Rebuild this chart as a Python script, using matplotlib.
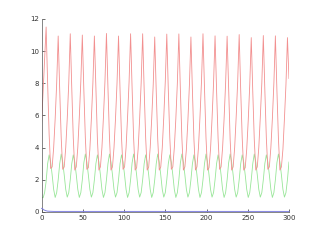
import numpy as np
import matplotlib
matplotlib.use("Agg")
import matplotlib.pyplot as plt

red = [
    5.5, 7.5, 9.5,
    11.5, 8.0, 4.8, 2.7, 2.8, 4.0, 5.8, 8.0,
    10.94, 7.6, 4.6, 2.65, 2.8, 4.0, 5.8, 8.0,
    11.08, 7.7, 4.6, 2.6, 2.8, 4.0, 5.9, 8.1,
    11.0, 7.6, 4.6, 2.65, 2.75, 3.9, 5.8, 8.0,
    10.94, 7.6, 4.5, 2.6, 2.8, 4.0, 5.9, 8.1,
    11.1, 7.7, 4.6, 2.6, 2.8, 4.0, 5.8, 8.0,
    10.94, 7.6, 4.6, 2.65, 2.8, 4.0, 5.9, 8.1,
    11.08, 7.7, 4.6, 2.6, 2.75, 3.9, 5.8, 8.0,
    11.08, 7.6, 4.6, 2.6, 2.8, 4.0, 5.8, 7.9,
    10.88, 7.5, 4.5, 2.6, 2.8, 4.0, 5.9, 8.1,
    11.06, 7.6, 4.6, 2.65, 2.8, 4.0, 5.8, 8.0,
    11.07, 7.6, 4.6, 2.6, 2.8, 3.9, 5.7, 7.9,
    10.88, 7.5, 4.5, 2.6, 2.8, 4.0, 5.9, 8.1,
    11.08, 7.7, 4.6, 2.6, 2.75, 3.9, 5.8, 8.0,
    10.95, 7.6, 4.6, 2.65, 2.8, 4.0, 5.8, 8.0,
    10.93, 7.6, 4.5, 2.6, 2.8, 4.0, 5.9, 8.1,
    11.03, 7.6, 4.6, 2.6, 2.75, 3.9, 5.7, 7.9,
    10.84, 7.5, 4.5, 2.6, 2.8, 4.0, 5.9, 8.0,
    10.97, 7.6, 4.6, 2.65, 2.8, 4.0, 5.8, 8.0,
    10.95, 7.6, 4.6, 2.6, 2.8, 3.9, 5.8, 7.9,
    10.84, 8.3,
]

green = [
    0.9, 0.88, 1.2,
    1.9, 3.0, 3.55, 3.1, 2.3, 1.4, 0.9, 1.2,
    2.0, 3.0, 3.6, 3.1, 2.3, 1.4, 0.92, 1.2,
    2.0, 3.0, 3.55, 3.1, 2.3, 1.4, 0.9, 1.2,
    2.0, 3.05, 3.6, 3.1, 2.3, 1.4, 0.92, 1.2,
    2.0, 3.0, 3.55, 3.1, 2.3, 1.4, 0.9, 1.2,
    2.0, 3.0, 3.6, 3.1, 2.3, 1.4, 0.92, 1.2,
    2.0, 3.0, 3.55, 3.1, 2.3, 1.4, 0.9, 1.2,
    2.0, 3.05, 3.6, 3.1, 2.3, 1.4, 0.92, 1.2,
    2.0, 3.0, 3.55, 3.1, 2.3, 1.4, 0.9, 1.2,
    2.0, 3.0, 3.6, 3.1, 2.3, 1.4, 0.92, 1.2,
    2.0, 3.0, 3.55, 3.1, 2.3, 1.4, 0.9, 1.2,
    2.0, 3.05, 3.6, 3.1, 2.3, 1.4, 0.92, 1.2,
    2.0, 3.0, 3.55, 3.1, 2.3, 1.4, 0.9, 1.2,
    2.0, 3.0, 3.6, 3.1, 2.3, 1.4, 0.92, 1.2,
    2.0, 3.0, 3.55, 3.1, 2.3, 1.4, 0.9, 1.2,
    2.0, 3.05, 3.6, 3.1, 2.3, 1.4, 0.92, 1.2,
    2.0, 3.0, 3.55, 3.1, 2.3, 1.4, 0.9, 1.2,
    2.0, 3.0, 3.6, 3.1, 2.3, 1.4, 0.92, 1.2,
    2.0, 3.0, 3.55, 3.1, 2.3, 1.4, 0.9, 1.2,
    2.0, 3.05, 3.6, 3.1, 2.3, 1.4, 0.92, 1.2,
    2.0, 3.1,
]

blue_t = [0, 1, 2, 3, 5, 7, 10, 15, 300]
blue = [0.22, 0.2, 0.16, 0.12, 0.08, 0.05, 0.04, 0.03, 0.03]

t = np.linspace(0, 300, len(red))

xticks = [0, 50, 100, 150, 200, 250, 300]
yticks = [0, 2, 4, 6, 8, 10, 12]

fig = plt.figure(figsize=(3.2, 2.4), dpi=100)
ax = fig.add_axes([0.13, 0.117, 0.773, 0.804])

ax.plot(blue_t, blue, color="#8282e2", lw=0.7, zorder=3, clip_on=False)
ax.plot(t, green, color="#98e698", lw=0.6)
ax.plot(t, red, color="#f29090", lw=0.6)

ax.set_xlim(0, 300)
ax.set_ylim(0, 12)
ax.set_xticks(xticks)
ax.set_yticks(yticks)
ax.tick_params(direction="in", length=2, width=0.5, labelsize=5,
               colors="#333333", pad=2)
for side in ["top", "right"]:
    ax.spines[side].set_visible(False)
for side in ["left", "bottom"]:
    ax.spines[side].set_linewidth(0.5)
    ax.spines[side].set_color("#555555")

fig.savefig("out.png", dpi=100)
